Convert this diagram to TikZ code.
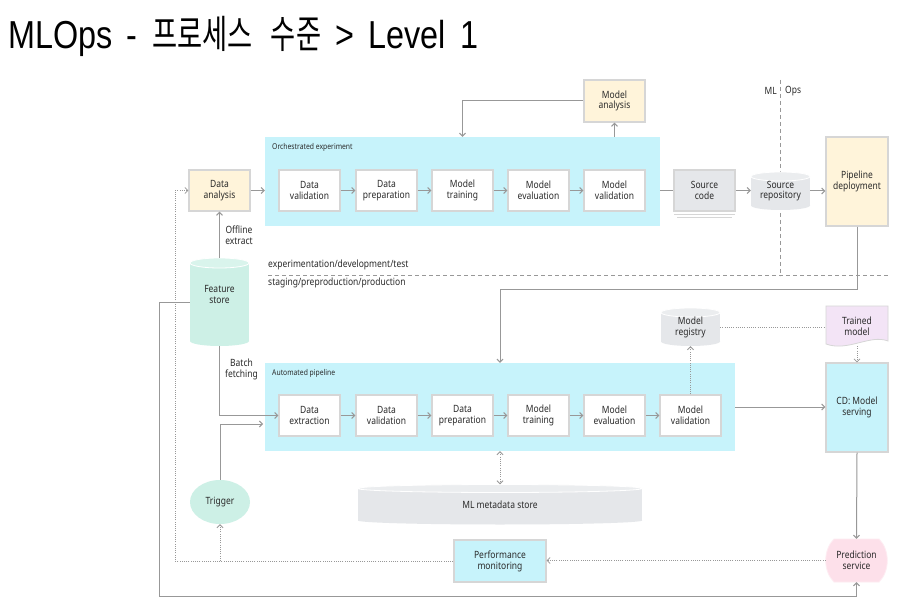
\documentclass[tikz,border=0pt]{standalone}
\usepackage{fontspec}
\setmainfont{Noto Sans}
\newfontfamily\tfont[FakeStretch=0.83,WordSpace=1.6]{Liberation Sans}
\newfontfamily\cjk[FakeStretch=0.7,WordSpace=3]{Noto Sans CJK KR}
\newfontfamily\dfont[FakeStretch=0.85]{Noto Sans}
\usetikzlibrary{shapes.geometric,arrows.meta}
\definecolor{cyanP}{HTML}{C7F3FB}
\definecolor{yel}{HTML}{FFF4DA}
\definecolor{bord}{HTML}{D6D6D6}
\definecolor{mint}{HTML}{CDF0E6}
\definecolor{grayF}{HTML}{E5E7EA}
\definecolor{pinkF}{HTML}{FDE0EA}
\definecolor{lav}{HTML}{F3E4F6}
\definecolor{lin}{HTML}{989898}
\definecolor{txt}{HTML}{2A2A2A}
\newcommand{\mycyl}[6]{%
  \fill[#6] ({#1-#3},{#2-#4+#5}) rectangle ({#1+#3},{#2+#4-#5});
  \fill[#6] (#1,{#2+#4-#5}) ellipse[x radius=#3pt, y radius=#5pt];
  \filldraw[fill=#6!75!white, draw=white, line width=0.8pt] (#1,{#2-#4+#5}) ellipse[x radius=#3pt, y radius=#5pt];
}
\tikzset{
  base/.style={align=center, text=txt, font=\dfont\fontsize{10}{10.8}\selectfont, inner sep=1pt},
  wbox/.style={base, draw=bord, line width=1.2pt, fill=white, minimum width=61pt, minimum height=41pt},
  ybox/.style={wbox, fill=yel},
  cbox/.style={base, draw=bord, line width=1.2pt, fill=cyanP},
  panel/.style={fill=cyanP, draw=none, inner sep=0pt},
  lbl/.style={text=txt, inner sep=0pt, font=\dfont\fontsize{10}{11}\selectfont},
  slbl/.style={text=txt, inner sep=0pt, font=\dfont\fontsize{8}{9}\selectfont},
  ln/.style={draw=lin, line width=1pt},
  arr/.style={ln, -{Straight Barb[length=3pt,width=6pt]}},
  dotl/.style={draw=lin, line width=0.8pt, dash pattern=on 1pt off 1.2pt},
  dotarr/.style={dotl, -{Straight Barb[length=3pt,width=6pt]}},
  envl/.style={draw=lin, line width=1pt, dash pattern=on 4pt off 3pt},
}
\begin{document}
\begin{tikzpicture}[x=1pt,y=-1pt]
\fill[white] (0,0) rectangle (900,604);
\useasboundingbox (0,0) rectangle (900,604);

% title
\node[anchor=base west, inner sep=0pt, font=\tfont\fontsize{39}{39}\selectfont] (title) at (8,49) {MLOps - {\cjk 프로세스 수준} > Level 1};

% panels
\node[panel, minimum width=395pt, minimum height=89pt] (orch) at (462.5,181.5) {};
\node[slbl, anchor=west] (orl) at (272,147) {Orchestrated experiment};
\node[panel, minimum width=470pt, minimum height=88pt] (ap) at (500,407) {};
\node[slbl, anchor=west] (apl) at (272,373) {Automated pipeline};

% environment lines
\coordinate (mlT) at (780,80);
\coordinate (mlB) at (780,276);
\coordinate (envL) at (268,276);
\coordinate (envR) at (888,276);
\draw[envl] (mlT) -- (mlB);
\draw[envl] (envL) -- (envR);
\node[lbl, anchor=east] (ml) at (777,91) {ML};
\node[lbl, anchor=west] (ops) at (785,91) {Ops};
\node[lbl, anchor=west] (envtop) at (268,265) {experimentation/development/test};
\node[lbl, anchor=west] (envbot) at (268,283) {staging/preproduction/production};

% cylinders
\mycyl{780.5}{191}{29.5}{19}{4.5}{grayF}
\mycyl{219.5}{302}{29.5}{44}{5}{mint}
\mycyl{690.5}{327}{29.5}{19}{4.5}{grayF}
\mycyl{500}{504.5}{142}{20}{4}{grayF}
\node[base, minimum width=59pt, minimum height=38pt] (sr) at (780.5,191) {Source\\repository};
\node[base, minimum width=59pt, minimum height=88pt] (fs) at (219.5,302) {Feature\\store\\[4pt]};
\node[base, minimum width=59pt, minimum height=38pt] (mr) at (690.5,327) {Model\\registry};
\node[base, minimum width=284pt, minimum height=40pt] (mms) at (500,504.5) {ML metadata store};

% trained model (document shape)
\filldraw[fill=lav, draw=bord, line width=0.8pt] (826,306) -- (888,306) -- (888,341) .. controls (870,334) and (848,352) .. (826,344) -- cycle;
\node[base, minimum width=62pt, minimum height=40pt] (tm) at (857,326) {Trained\\model};

% prediction service
\filldraw[fill=pinkF, draw=pinkF!60!white, line width=0.8pt] (834,539) -- (879,539) .. controls (890,550) and (890,571) .. (879,582) -- (834,582) .. controls (823,571) and (823,550) .. (834,539) -- cycle;
\node[base, minimum width=61pt, minimum height=43pt] (ps) at (856.5,560.5) {Prediction\\service};

% boxes
\node[ybox] (da) at (219.5,190.5) {Data\\analysis};
\node[wbox] (dv1) at (309.5,190.5) {Data\\validation};
\node[wbox] (dp1) at (386.5,190.5) {Data\\preparation};
\node[wbox] (mt1) at (462.5,190.5) {Model\\training};
\node[wbox] (me1) at (538.5,190.5) {Model\\evaluation};
\node[wbox] (mv1) at (614.5,190.5) {Model\\validation};
\node[ybox, minimum height=42pt] (ma) at (614.5,101) {Model\\analysis};
\node[wbox, fill=grayF] (sc) at (704.5,190.5) {Source\\code};
\draw[draw=bord, line width=1pt] ([xshift=1pt,yshift=-3pt]sc.south west) -- ([xshift=-1pt,yshift=-3pt]sc.south east);
\draw[draw=bord, line width=1pt] ([xshift=4pt,yshift=-6pt]sc.south west) -- ([xshift=-4pt,yshift=-6pt]sc.south east);
\node[ybox, minimum width=62pt, minimum height=89pt] (pd) at (857,181.5) {Pipeline\\deployment};

\node[wbox] (de2) at (309.5,415.5) {Data\\extraction};
\node[wbox] (dv2) at (386.5,415.5) {Data\\validation};
\node[wbox] (dp2) at (462.5,415.5) {Data\\preparation};
\node[wbox] (mt2) at (538.5,415.5) {Model\\training};
\node[wbox] (me2) at (614.5,415.5) {Model\\evaluation};
\node[wbox] (mv2) at (690.5,415.5) {Model\\validation};
\node[cbox, minimum width=62pt, minimum height=89pt] (cd) at (857,407.5) {CD: Model\\serving};
\node[cbox, minimum width=92pt, minimum height=42pt] (pm) at (500,561) {Performance\\monitoring};
\node[base, ellipse, fill=mint, minimum width=60pt, minimum height=44pt, inner sep=0pt] (trig) at (220,502) {Trigger};

\node[lbl, align=center, font=\dfont\fontsize{10}{10.8}\selectfont] (oe) at (239,235.5) {Offline\\extract};
\node[lbl, align=center, font=\dfont\fontsize{10}{10.8}\selectfont] (bf) at (241.5,369.5) {Batch\\fetching};

% helper coordinates
\coordinate (lb) at (159,596);
\coordinate (dl) at (175,400);
\coordinate (tin) at (263,424);
\coordinate (ret) at (500,290);

% connectors
\draw[arr] (da.east) -- (da.east -| orch.west);
\draw[arr] (dv1) -- (dp1);
\draw[arr] (dp1) -- (mt1);
\draw[arr] (mt1) -- (me1);
\draw[arr] (me1) -- (mv1);
\draw[arr] (ma.south |- orch.north) -- (ma.south);
\draw[arr] (ma.west) -| (orch.north);
\draw[ln] (sc.west -| orch.east) -- (sc.west);
\draw[arr] (sc.east) -- (sc.east -| sr.west);
\draw[arr] (sr.east) -- (sr.east -| pd.west);
\draw[arr] (fs.north) -- (da.south);
\draw[arr] (fs.west) -| (lb) -| (ps.south);
\draw[dotarr] (pm.west) -| (dl) |- (da.west);
\draw[dotarr] (trig.south |- pm.west) -- (trig.south);
\draw[arr] (fs.south) |- (de2.west);
\draw[arr] (trig.north) |- (tin);
\draw[arr] (de2) -- (dv2);
\draw[arr] (dv2) -- (dp2);
\draw[arr] (dp2) -- (mt2);
\draw[arr] (mt2) -- (me2);
\draw[arr] (me2) -- (mv2);
\draw[dotarr] (mv2.north) -- (mr.south);
\draw[dotl] (mr.east) -- (mr.east -| tm.west);
\draw[dotarr] (tm.south) -- (cd.north);
\draw[arr] (ap.east) -- (ap.east -| cd.west);
\draw[arr] (pd.south) |- (ret) -- (ap.north);
\draw[dotl, {Straight Barb[length=3pt,width=6pt]}-{Straight Barb[length=3pt,width=6pt]}] (ap.south) -- (mms.north);
\draw[arr] (cd.south) -- (ps.north);
\draw[dotarr] (ps.west) -- (ps.west -| pm.east);
\end{tikzpicture}
\end{document}
